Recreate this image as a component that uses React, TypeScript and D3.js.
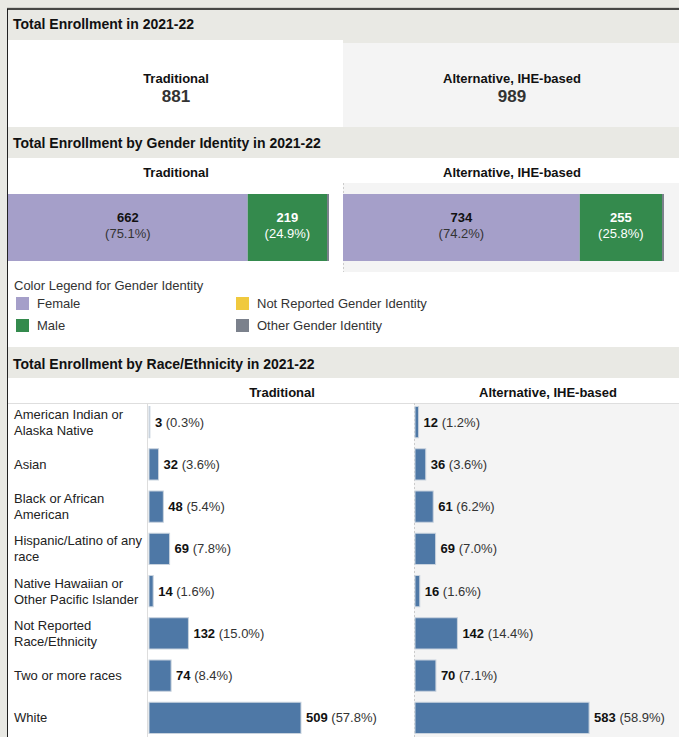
import React from "react";
import * as d3 from "d3";

const programs = ["Traditional", "Alternative, IHE-based"];
const totals = [881, 989];

const genderKeys = ["Female", "Male", "Not Reported Gender Identity", "Other Gender Identity"];
const genderColors = ["#a59fc9", "#348a4d", "#f0c93e", "#7b818c"];
const tradGender = [662, 219, 0, 0];
const altGender = [734, 255, 0, 0];
const tradGenderPct = ["75.1%", "24.9%", "0.0%", "0.0%"];
const altGenderPct = ["74.2%", "25.8%", "0.0%", "0.0%"];

const races = [
  "American Indian or|Alaska Native",
  "Asian",
  "Black or African|American",
  "Hispanic/Latino of any|race",
  "Native Hawaiian or|Other Pacific Islander",
  "Not Reported|Race/Ethnicity",
  "Two or more races",
  "White",
];
const tradRace = [3, 32, 48, 69, 14, 132, 74, 509];
const tradRacePct = ["0.3%", "3.6%", "5.4%", "7.8%", "1.6%", "15.0%", "8.4%", "57.8%"];
const altRace = [12, 36, 61, 69, 16, 142, 70, 583];
const altRacePct = ["1.2%", "3.6%", "6.2%", "7.0%", "1.6%", "14.4%", "7.1%", "58.9%"];

const W = 679;
const H = 737;
const FONT = "'Liberation Sans', Arial, Helvetica, sans-serif";
const BAND = "#e9e9e4";
const PANEL = "#f4f4f4";

export default function App() {
  const raceY = d3
    .scaleBand<string>()
    .domain(races)
    .range([401, 739])
    .paddingInner(0.26)
    .paddingOuter(0.13);
  const raceX = d3.scaleLinear().domain([0, 1000]).range([0, 298.6]);

  const genderPanels = [
    { x0: 8, x1: 327, vals: tradGender, pct: tradGenderPct, total: totals[0], cx: 175 },
    { x0: 343, x1: 662, vals: altGender, pct: altGenderPct, total: totals[1], cx: 512 },
  ];

  const racePanels = [
    { x0: 149, vals: tradRace, pct: tradRacePct, cx: 282 },
    { x0: 415, vals: altRace, pct: altRacePct, cx: 548 },
  ];

  return (
    <div style={{ position: "absolute", left: 0, top: 0 }}>
      <svg width={W} height={H} style={{ display: "block", fontFamily: FONT }}>
        {/* background */}
        <rect x={0} y={0} width={W} height={H} fill={BAND} />
        <line x1={7} x2={W} y1={7.5} y2={7.5} stroke="#cfcfca" />
        {/* section 1 */}
        <text x={13} y={29} fontSize={14} fontWeight="bold" fill="#111">Total Enrollment in 2021-22</text>
        <rect x={8} y={40} width={335} height={87} fill="#fff" />
        <rect x={343} y={43} width={W - 343} height={84} fill={PANEL} />
        {programs.map((p, i) => (
          <g key={p}>
            <text x={i === 0 ? 176 : 512} y={83} fontSize={13} fontWeight="bold" textAnchor="middle" fill="#111">{p}</text>
            <text x={i === 0 ? 176 : 512} y={102} fontSize={17} fontWeight="bold" textAnchor="middle" fill="#333">{totals[i]}</text>
          </g>
        ))}

        {/* section 2 */}
        <text x={13} y={148} fontSize={14} fontWeight="bold" fill="#111">Total Enrollment by Gender Identity in 2021-22</text>
        <rect x={8} y={158} width={W - 8} height={189} fill="#fff" />
        <rect x={343} y={183} width={W - 343} height={89} fill={PANEL} />
        <line x1={343.5} x2={343.5} y1={183} y2={272} stroke="#cccccc" strokeDasharray="2,2" />
        {programs.map((p, i) => (
          <text key={p} x={i === 0 ? 176 : 512} y={177} fontSize={13} fontWeight="bold" textAnchor="middle" fill="#111">{p}</text>
        ))}
        {genderPanels.map((gp, pi) => {
          const x = d3.scaleLinear().domain([0, gp.total]).range([gp.x0, gp.x1]);
          const stack = d3.cumsum(gp.vals);
          return (
            <g key={pi}>
              {gp.vals.map((v, k) => {
                if (v <= 0) return null;
                const xs = x(stack[k] - v);
                const xe = x(stack[k]);
                const white = k === 1;
                return (
                  <g key={k}>
                    <rect x={xs} y={194} width={xe - xs} height={67} fill={genderColors[k]} />
                    <text x={(xs + xe) / 2} y={222} fontSize={13} fontWeight="bold" textAnchor="middle" fill={white ? "#fff" : "#111"}>{v}</text>
                    <text x={(xs + xe) / 2} y={238} fontSize={13} textAnchor="middle" fill={white ? "#fff" : "#333"}>({gp.pct[k]})</text>
                  </g>
                );
              })}
              <rect x={gp.x1} y={194} width={2} height={67} fill={genderColors[3]} />
            </g>
          );
        })}
        {/* legend */}
        <text x={14} y={290} fontSize={13} fill="#333">Color Legend for Gender Identity</text>
        {genderKeys.map((g, k) => {
          const col = k === 0 || k === 1 ? 0 : 1;
          const row = k % 2;
          const sx = col === 0 ? 16 : 236;
          const sy = 297 + row * 22;
          return (
            <g key={g}>
              <rect x={sx} y={sy} width={13} height={13} fill={genderColors[k]} />
              <text x={sx + 21} y={sy + 11} fontSize={13} fill="#333">{g}</text>
            </g>
          );
        })}

        {/* section 3 */}
        <text x={13} y={369} fontSize={14} fontWeight="bold" fill="#111">Total Enrollment by Race/Ethnicity in 2021-22</text>
        <rect x={8} y={378} width={W - 8} height={H - 378} fill="#fff" />
        <rect x={414} y={403} width={W - 414} height={H - 403} fill={PANEL} />
        <line x1={8} x2={W} y1={403.5} y2={403.5} stroke="#dedede" />
        <line x1={147.5} x2={147.5} y1={403} y2={H} stroke="#dddddd" />
        <line x1={414.5} x2={414.5} y1={403} y2={H} stroke="#cccccc" strokeDasharray="2,2" />
        {racePanels.map((rp, i) => (
          <text key={i} x={rp.cx} y={397} fontSize={13} fontWeight="bold" textAnchor="middle" fill="#111">{programs[i]}</text>
        ))}
        {races.map((r) => {
          const lines = r.split("|");
          const cy = (raceY(r) as number) + raceY.bandwidth() / 2;
          const startY = cy + 4.5 - ((lines.length - 1) * 16) / 2;
          return (
            <text key={r} x={14} fontSize={13} fill="#222">
              {lines.map((l, li) => (
                <tspan key={li} x={14} y={startY + li * 16}>{l}</tspan>
              ))}
            </text>
          );
        })}
        {racePanels.map((rp, pi) => (
          <g key={pi}>
            {races.map((r, k) => {
              const y = raceY(r) as number;
              const w = raceX(rp.vals[k]);
              const cy = y + raceY.bandwidth() / 2;
              return (
                <g key={r}>
                  <rect x={rp.x0} y={y} width={w} height={raceY.bandwidth()} fill="#4e78a6" stroke="#c9d3de" strokeWidth={1} />
                  <text x={rp.x0 + w + 5} y={cy + 4.5} fontSize={13} fill="#333">
                    <tspan fontWeight="bold" fill="#111">{rp.vals[k]}</tspan>
                    <tspan> ({rp.pct[k]})</tspan>
                  </text>
                </g>
              );
            })}
          </g>
        ))}

        {/* frame */}
        <line x1={7.5} x2={7.5} y1={9} y2={H} stroke="#222" />
        <line x1={7} x2={W} y1={9} y2={9} stroke="#111" strokeWidth={1.5} />
      </svg>
    </div>
  );
}
